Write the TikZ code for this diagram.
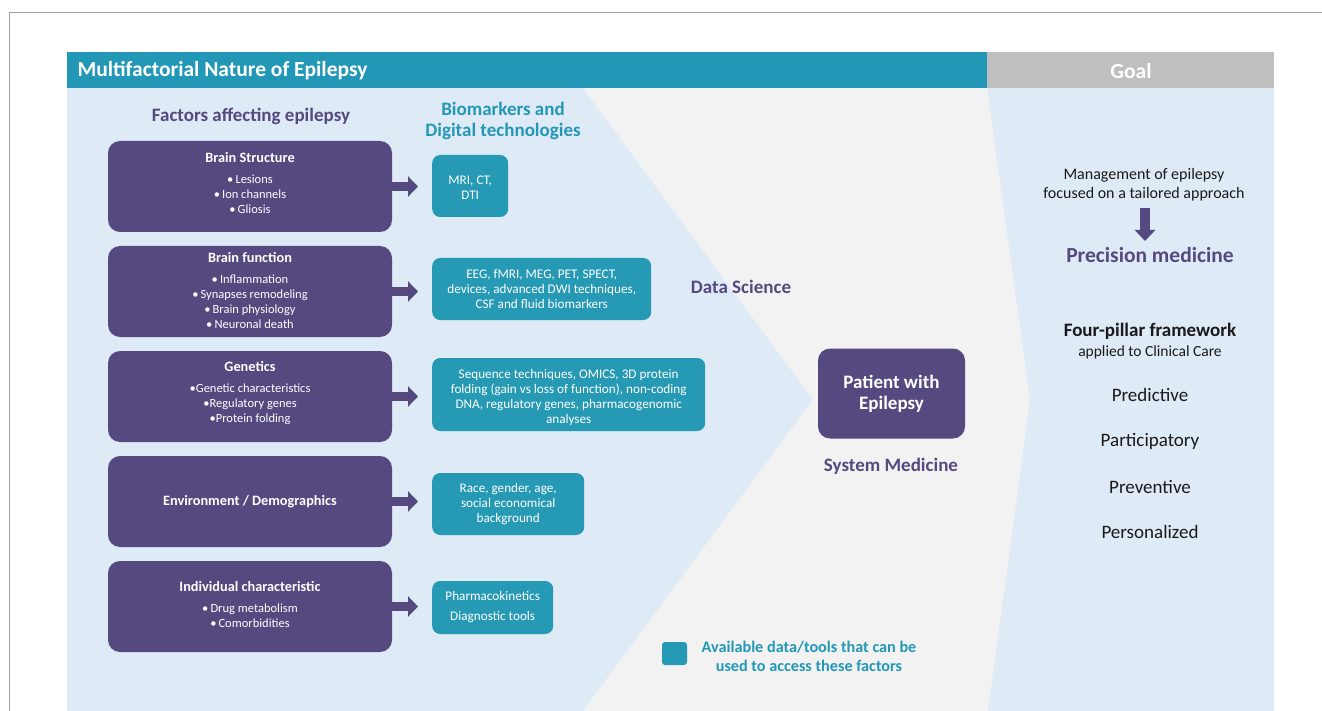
\documentclass[tikz,border=0pt]{standalone}
\usepackage{fontspec}
\setmainfont{Carlito}
\usetikzlibrary{arrows.meta,calc}

\definecolor{epiPurple}{HTML}{55497F}
\definecolor{epiTeal}{HTML}{2398B6}
\definecolor{boxTeal}{HTML}{2699B5}
\definecolor{paleBlue}{HTML}{DEEAF6}
\definecolor{chevGray}{HTML}{F2F2F2}
\definecolor{goalGray}{HTML}{BFBFBF}
\definecolor{frameGray}{HTML}{A0A0A0}
\definecolor{darkText}{HTML}{1A1A1A}

\newcommand{\fs}[2]{\fontsize{#1}{#2}\selectfont}
\newcommand{\factortitle}[1]{{\bfseries\fs{14.3}{15}#1}}

\begin{document}
\begin{tikzpicture}[x=1pt,y=-1pt,
  factorbox/.style={fill=epiPurple, rounded corners=12pt, minimum width=284pt,
    minimum height=91pt, inner sep=0pt},
  factortext/.style={text=white, align=center, inner sep=0pt, font=\fs{12.5}{15}},
  toolbox/.style={fill=boxTeal, rounded corners=8pt, inner sep=0pt, anchor=west},
  tooltext/.style={text=white, align=center, inner sep=0pt, font=\fs{13.2}{15}},
  blockarrow/.style={draw=epiPurple, line width=9pt,
    -{Triangle[width=20pt,length=10pt]}, shorten >=14pt},
  purplehead/.style={text=epiPurple, font=\bfseries\fs{19}{21}, align=center},
  tealhead/.style={text=epiTeal, font=\bfseries\fs{19}{21}, align=center},
  pillar/.style={text=darkText, font=\fs{19}{20}}
]
\useasboundingbox (0,0) rectangle (1322,711);
\fill[white] (0,0) rectangle (1322,711);

% outer frame
\draw[frameGray, line width=1.4pt] (9.5,711) -- (9.5,12.5) -- (1322,12.5);

% panels
\fill[paleBlue] (67,88) rectangle (1274,711);
\fill[chevGray] (583,88) -- (813,399.5) -- (583,711) -- (988,711)
  -- (1030,399.5) -- (987,88) -- cycle;
\fill[epiTeal] (67,52) rectangle (987,88);
\fill[goalGray] (987,52) rectangle (1274,88);

\node[anchor=west, text=white, font=\bfseries\fs{21.5}{24}] (title) at (74,71)
  {Multifactorial Nature of Epilepsy};
\node[text=white, font=\bfseries\fs{21.5}{24}] (goal) at (1131,71) {Goal};

% column headings
\node[purplehead] (factorsHead) at (251,116) {Factors affecting epilepsy};
\node[tealhead] (bioHead) at (503,120.5) {Biomarkers and\\Digital technologies};

% factors
\node[factorbox] (fStruct) at (250,186.5) {};
\node[factortext] (fStructText) at ($(fStruct.center)+(0,-3.5)$)
  {\factortitle{Brain Structure}\\[6pt]•\,Lesions\\•\,Ion channels\\•\,Gliosis};
\node[factorbox] (fFunc) at (250,291.5) {};
\node[factortext] (fFuncText) at ($(fFunc.center)+(0,-0.5)$)
  {\factortitle{Brain function}\\[6pt]•\,Inflammation\\•\,Synapses remodeling\\•\,Brain physiology\\•\,Neuronal death};
\node[factorbox] (fGen) at (250,396.5) {};
\node[factortext] (fGenText) at ($(fGen.center)+(0,-3)$)
  {\factortitle{Genetics}\\[6pt]•Genetic characteristics\\•Regulatory genes\\•Protein folding};
\node[factorbox] (fEnv) at (250,501.5) {};
\node[factortext] (fEnvText) at (fEnv.center) {\factortitle{Environment / Demographics}};
\node[factorbox] (fInd) at (250,606.5) {};
\node[factortext] (fIndText) at ($(fInd.center)+(0,-2)$)
  {\factortitle{Individual characteristic}\\[6pt]•\,Drug metabolism\\•\,Comorbidities};

% tools
\node[toolbox, minimum width=76pt, minimum height=62pt] (tStruct) at (432,186) {};
\node[tooltext] (tStructText) at ($(tStruct.center)+(0,2)$) {MRI, CT,\\DTI};
\node[toolbox, minimum width=219pt, minimum height=62pt] (tFunc) at (432,289) {};
\node[tooltext] (tFuncText) at (tFunc.center)
  {EEG, fMRI, MEG, PET, SPECT,\\devices, advanced DWI techniques,\\CSF and fluid biomarkers};
\node[toolbox, minimum width=273pt, minimum height=73pt] (tGen) at (432,394.5) {};
\node[tooltext] (tGenText) at ($(tGen.center)+(0,3)$)
  {Sequence techniques, OMICS, 3D protein\\folding (gain vs loss of function), non-coding\\DNA, regulatory genes, pharmacogenomic\\analyses};
\node[toolbox, minimum width=152pt, minimum height=62pt] (tEnv) at (432,504) {};
\node[tooltext] (tEnvText) at (tEnv.center)
  {Race, gender, age,\\social economical\\background};
\node[toolbox, minimum width=121pt, minimum height=53pt] (tInd) at (432,607.5) {};
\node[tooltext] (tIndText) at (tInd.center) {Pharmacokinetics\\[5pt]Diagnostic tools};

% factor -> tool arrows
\foreach \f/\t in {fStruct/tStruct, fFunc/tFunc, fGen/tGen, fEnv/tEnv, fInd/tInd}
  \draw[blockarrow] (\f.east) -- (\f.east -| \t.west);

% centre
\node[purplehead] (dataSci) at (741,287) {Data Science};
\node[fill=epiPurple, rounded corners=12pt, minimum width=147pt, minimum height=90pt,
  text=white, font=\bfseries\fs{19}{21}, align=center, inner sep=0pt] (patient)
  at (891.5,393.5) {Patient with\\Epilepsy};
\node[purplehead] (sysMed) at (891,466) {System Medicine};

% legend
\node[fill=boxTeal, rounded corners=3pt, minimum width=25pt, minimum height=23pt,
  inner sep=0pt] (legendKey) at (674.5,653.5) {};
\node[text=epiTeal, font=\bfseries\fs{16.2}{19}, align=center] (legendText) at (809,656)
  {Available data/tools that can be\\used to access these factors};

% goal column
\node[text=darkText, font=\fs{16}{19}, align=center] (mgmt) at (1144,185)
  {Management of epilepsy\\focused on a tailored approach};
\coordinate (goalArrowTop) at (1145,208);
\coordinate (goalArrowEnd) at (1145,241);
\draw[epiPurple, line width=10pt, -{Triangle[width=20pt,length=11pt]}]
  (goalArrowTop) -- (goalArrowEnd);
\node[text=epiPurple, font=\bfseries\fs{21.5}{22}] (precision) at (1150,255) {Precision medicine};
\node[text=darkText, font=\bfseries\fs{19}{20}] (fourPillar) at (1150,331) {Four-pillar framework};
\node[text=darkText, font=\fs{15.5}{18}] (applied) at (1150,352.5) {applied to Clinical Care};
\node[pillar] (predictive) at (1150,395) {Predictive};
\node[pillar] (participatory) at (1150,441) {Participatory};
\node[pillar] (preventive) at (1150,487) {Preventive};
\node[pillar] (personalized) at (1150,532) {Personalized};
\end{tikzpicture}
\end{document}
